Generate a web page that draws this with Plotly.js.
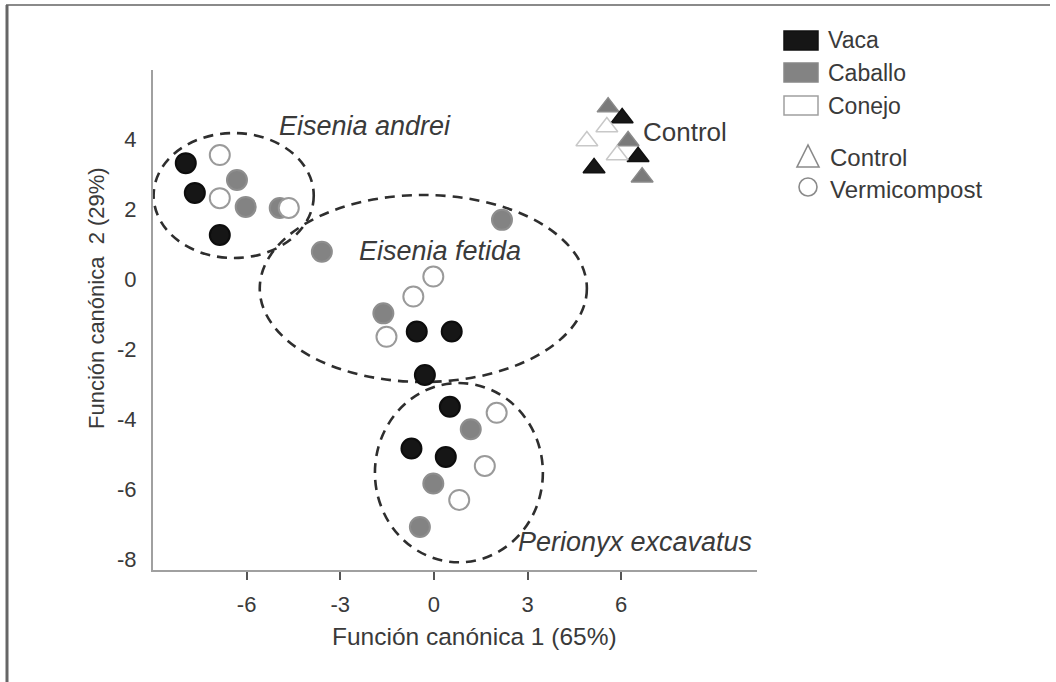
<!DOCTYPE html>
<html>
<head>
<meta charset="utf-8">
<script src="https://cdn.plot.ly/plotly-3.0.1.min.js"></script>
<style>html,body{margin:0;padding:0;background:#fff;} #chart{width:1056px;height:682px;}</style>
</head>
<body>
<div id="chart"></div>
<script>
// ---- Data ----
const vacaX = [-7.95, -7.66, -6.86, -0.55, 0.57, -0.29, 0.51, -0.72, 0.38];
const vacaY = [3.31, 2.46, 1.26, -1.5, -1.5, -2.74, -3.65, -4.84, -5.08];
const caballoX = [-6.31, -6.03, -4.94, -3.59, 2.18, -1.62, 1.18, -0.02, -0.45];
const caballoY = [2.83, 2.06, 2.03, 0.78, 1.69, -0.98, -4.29, -5.84, -7.08];
const conejoX = [-6.86, -6.86, -4.65, -0.02, -0.66, -1.52, 2.01, 1.63, 0.81];
const conejoY = [3.54, 2.31, 2.03, 0.07, -0.5, -1.65, -3.82, -5.34, -6.31];

const ctrlVacaX = [6.03, 6.54, 5.13];
const ctrlVacaY = [4.6, 3.49, 3.17];
const ctrlCaballoX = [5.58, 6.22, 6.67];
const ctrlCaballoY = [4.91, 3.94, 2.91];
const ctrlConejoX = [5.54, 4.9, 5.87];
const ctrlConejoY = [4.34, 3.94, 3.54];

// Group ellipses: [xmin, xmax, ymin, ymax]
const groupNames = ["Eisenia andrei", "Eisenia fetida", "Perionyx excavatus"];
const groupBoxes = [[-8.98, -3.85, 0.6, 4.17], [-5.58, 4.9, -2.94, 2.4], [-1.89, 3.49, -8.09, -2.97]];
const groupLabelPos = [[-2.2, 4.36], [0.2, 0.8], [6.45, -7.52]];

const legendSpecies = ["Vaca", "Caballo", "Conejo"];
const legendTreat = ["Control", "Vermicompost"];
const xTicks = [-6, -3, 0, 3, 6];
const yTicks = [-8, -6, -4, -2, 0, 2, 4];
const xTitle = "Función canónica 1 (65%)";
const yTitle = "Función canónica\u00a0 2 (29%)";

// ---- Styles ----
const BLACK = "#161616", GRAY = "#838383", OPEN_LINE = "#9a9a9a";
const FONT = "Liberation Sans, Arial, sans-serif";
const TXT = "#3a3a3a";

// plot area in pixels
const L = 153, R = 757, T = 70, B = 570;
const px = v => (v - L) / (R - L);
const py = v => (B - v) / (B - T);

function circ(x, y, fill, line, name) {
  return {type: "scatter", mode: "markers", x: x, y: y, name: name, showlegend: false, hoverinfo: "x+y",
    marker: {symbol: "circle", size: 20, color: fill, line: {color: line, width: 2}}};
}
function tri(x, y, fill, line, name) {
  return {type: "scatter", mode: "markers", x: x, y: y, name: name, showlegend: false, hoverinfo: "x+y",
    marker: {symbol: "triangle-up", size: 19, color: fill, line: {color: line, width: 1.5}}};
}

const traces = [
  circ(vacaX, vacaY, BLACK, "#0d0d0d", "Vaca"),
  circ(caballoX, caballoY, GRAY, "#8e8e8e", "Caballo"),
  circ(conejoX, conejoY, "#ffffff", OPEN_LINE, "Conejo"),
  tri(ctrlCaballoX, ctrlCaballoY, "#7a7a7a", "#8a8a8a", "Caballo control"),
  tri(ctrlVacaX, ctrlVacaY, BLACK, "#111", "Vaca control"),
  tri(ctrlConejoX, ctrlConejoY, "#ffffff", "#c8c8c8", "Conejo control")
];

const shapes = [];
groupBoxes.forEach(b => shapes.push({type: "circle", xref: "x", yref: "y", x0: b[0], x1: b[1], y0: b[2], y1: b[3],
  line: {color: "#2e2e2e", width: 2.6, dash: "10px,7px"}, layer: "below"}));

// outer frame
shapes.push({type: "line", xref: "paper", yref: "paper", x0: px(6), x1: px(1050), y0: py(5), y1: py(5), line: {color: "#8a8a8a", width: 2}});
shapes.push({type: "line", xref: "paper", yref: "paper", x0: px(7), x1: px(7), y0: py(5), y1: py(690), line: {color: "#666", width: 3}});

// legend swatches
const swFill = [BLACK, GRAY, "#ffffff"], swLine = ["#111", "#888", "#a0a0a0"];
const swTop = [31, 63, 96];
legendSpecies.forEach((s, i) => shapes.push({type: "rect", xref: "paper", yref: "paper",
  x0: px(784), x1: px(818), y0: py(swTop[i]), y1: py(swTop[i] + 19), fillcolor: swFill[i], line: {color: swLine[i], width: 1.5}}));
// triangle and circle legend symbols
shapes.push({type: "path", xref: "paper", yref: "paper", path:
  `M ${px(797)} ${py(167)} L ${px(819)} ${py(167)} L ${px(808)} ${py(145)} Z`, fillcolor: "rgba(0,0,0,0)", line: {color: "#8a8a8a", width: 1.6}});
shapes.push({type: "circle", xref: "paper", yref: "paper", x0: px(799), x1: px(817), y0: py(178), y1: py(196),
  fillcolor: "rgba(0,0,0,0)", line: {color: "#8a8a8a", width: 1.6}});

const annotations = [];
groupNames.forEach((g, i) => annotations.push({xref: "x", yref: "y", x: groupLabelPos[i][0], y: groupLabelPos[i][1],
  text: "<i>" + g + "</i>", showarrow: false, font: {family: FONT, size: 27, color: TXT}}));
annotations.push({xref: "x", yref: "y", x: 8.05, y: 4.2, text: "Control", showarrow: false, xanchor: "center",
  font: {family: FONT, size: 26, color: TXT}});
const legY = [40, 73, 106];
legendSpecies.forEach((s, i) => annotations.push({xref: "paper", yref: "paper", x: px(826), y: py(legY[i]),
  xanchor: "left", yanchor: "middle", text: s, showarrow: false, font: {family: FONT, size: 23, color: TXT}}));
const legY2 = [157, 189];
legendTreat.forEach((s, i) => annotations.push({xref: "paper", yref: "paper", x: px(828), y: py(legY2[i]),
  xanchor: "left", yanchor: "middle", text: s, showarrow: false, font: {family: FONT, size: 24, color: TXT}}));
// axis titles
annotations.push({xref: "paper", yref: "paper", x: px(475), y: py(636), text: xTitle, showarrow: false,
  xanchor: "center", yanchor: "middle", font: {family: FONT, size: 24.5, color: TXT}});
annotations.push({xref: "paper", yref: "paper", x: px(96), y: py(298), text: yTitle, showarrow: false, textangle: -90,
  xanchor: "center", yanchor: "middle", font: {family: FONT, size: 22, color: TXT}});

const layout = {
  width: 1056, height: 682,
  margin: {l: L, r: 1056 - R, t: T, b: 682 - B, pad: 0},
  paper_bgcolor: "#ffffff", plot_bgcolor: "#ffffff",
  showlegend: false,
  xaxis: {range: [-9.0, 10.35], tickvals: xTicks, ticktext: xTicks.map(String), showgrid: false, zeroline: false,
    showline: true, linecolor: "#a0a0a0", linewidth: 2, ticks: "outside", ticklen: 8, tickwidth: 2, tickcolor: "#555",
    ticklabelstandoff: 6, tickfont: {family: FONT, size: 22, color: TXT}, fixedrange: true},
  yaxis: {range: [-8.31, 5.97], tickvals: yTicks, ticktext: yTicks.map(String), showgrid: false, zeroline: false,
    showline: true, linecolor: "#a0a0a0", linewidth: 2, ticks: "", ticklabelstandoff: 10,
    tickfont: {family: FONT, size: 22, color: TXT}, fixedrange: true},
  shapes: shapes,
  annotations: annotations
};

Plotly.newPlot("chart", traces, layout, {displayModeBar: false, staticPlot: true});
</script>
</body>
</html>
